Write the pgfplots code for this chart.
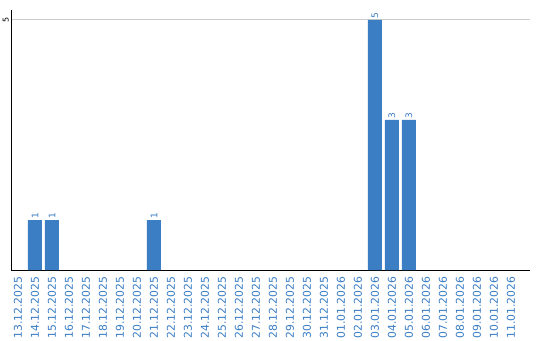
\documentclass[border=0pt]{standalone}
\usepackage{pgfplots}
\pgfplotsset{compat=1.18}
\usepackage{fontspec}
\setmainfont{DejaVu Sans}
\definecolor{barblue}{HTML}{3B7EC4}
\definecolor{lblblue}{HTML}{3A7DC4}
\begin{document}
\begin{tikzpicture}[x=1pt,y=1pt]
\path[use as bounding box] (0,0) rectangle (540,340);
\begin{axis}[
  at={(11pt,70pt)}, anchor=south west,
  scale only axis, width=519pt, height=260pt,
  xmin=-0.41, xmax=30.12, ymin=0, ymax=5.2,
  axis x line*=bottom, axis y line*=left,
  axis line style={black, line width=1pt},
  ytick={5}, ymajorgrids, grid style={gray!40, line width=1pt},
  major tick length=0pt,
  /pgf/number format/assume math mode=true,
  yticklabel style={rotate=90, anchor=south, inner sep=2pt, font=\fontsize{8}{9}\selectfont},
  xtick={0,...,29},
  xticklabels={13.12.2025,14.12.2025,15.12.2025,16.12.2025,17.12.2025,18.12.2025,19.12.2025,20.12.2025,21.12.2025,22.12.2025,23.12.2025,24.12.2025,25.12.2025,26.12.2025,27.12.2025,28.12.2025,29.12.2025,30.12.2025,31.12.2025,01.01.2026,02.01.2026,03.01.2026,04.01.2026,05.01.2026,06.01.2026,07.01.2026,08.01.2026,09.01.2026,10.01.2026,11.01.2026},
  xticklabel style={rotate=90, anchor=east, inner xsep=6.5pt, inner ysep=0pt, font=\fontsize{10.8}{12}\selectfont, text=lblblue},
  ybar, bar width=14pt,
  nodes near coords,
  nodes near coords style={rotate=90, anchor=west, inner sep=1.5pt, font=\fontsize{9}{10}\selectfont, text=lblblue},
]
\addplot[fill=barblue, draw=none] coordinates {(1,1) (2,1) (8,1) (21,5) (22,3) (23,3)};
\end{axis}
\end{tikzpicture}
\end{document}
